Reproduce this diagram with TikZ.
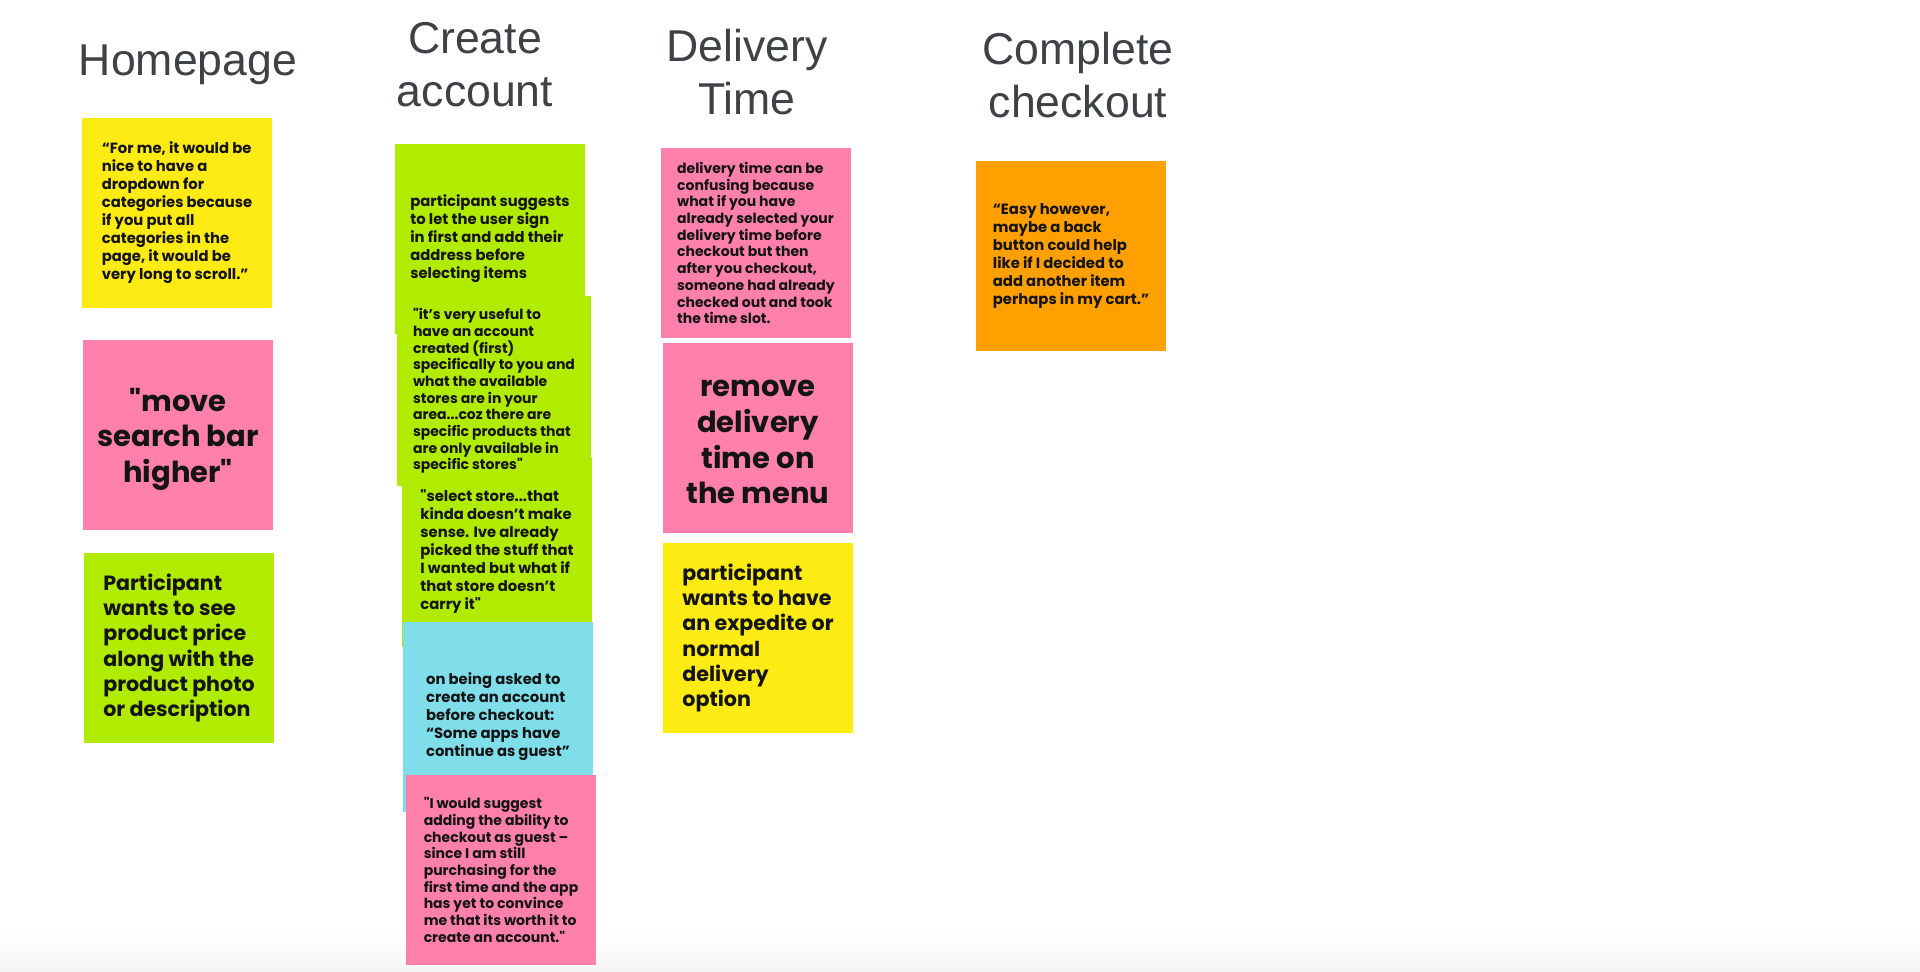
\documentclass[tikz,border=0pt]{standalone}
\usepackage{fontspec}
\setmainfont{Poppins}
\newfontfamily\headfont{Liberation Sans}

\definecolor{headgray}{RGB}{62,65,69}
\definecolor{stickyyellow}{RGB}{255,235,20}
\definecolor{stickypink}{RGB}{255,128,170}
\definecolor{stickygreen}{RGB}{177,235,0}
\definecolor{stickycyan}{RGB}{128,222,234}
\definecolor{stickyorange}{RGB}{255,160,0}

\tikzset{
  heading/.style={anchor=north, inner sep=0pt, align=center, text=headgray,
    font=\headfont\fontsize{22.3}{26.5}\selectfont},
  sticky/.style={minimum width=95pt, minimum height=95pt, inner sep=0pt,
    align=left, text=black!92, font=\bfseries\fontsize{7.4}{9}\selectfont},
  tightnote/.style={font=\bfseries\fontsize{7}{8.35}\selectfont},
  midnote/.style={font=\bfseries\fontsize{10.3}{12.6}\selectfont},
  bignote/.style={align=center, font=\bfseries\fontsize{14.5}{17.8}\selectfont},
}

\begin{document}
\begin{tikzpicture}[x=0.5pt, y=-0.5pt]

\useasboundingbox (0,0) rectangle (1920,971);
\fill[white] (0,0) rectangle (1920,971);
\shade[top color=white, bottom color=black!4] (0,930) rectangle (1920,971);

\node[heading] (homeTitle) at (188,44) {Homepage};
\node[heading] (accountTitle) at (475,22) {Create\\account};
\node[heading] (deliveryTitle) at (747,29) {Delivery\\Time};
\node[heading] (checkoutTitle) at (1078,32) {Complete\\checkout};

\node[sticky, fill=stickyyellow] (homeDropdown) at (177,213)
  {“For me, it would be\\nice to have a\\dropdown for\\categories because\\if you put all\\categories in the\\page, it would be\\very long to scroll.”};
\node[sticky, bignote, fill=stickypink] (homeSearch) at (178,435)
  {\rule{0pt}{15.6pt}\textquotedbl move\\search bar\\higher\textquotedbl};
\node[sticky, midnote, fill=stickygreen] (homePrice) at (179,648)
  {Participant\\wants to see\\product price\\along with the\\product photo\\or description};

\node[sticky, fill=stickygreen] (accountSignIn) at (490,239)
  {participant suggests\\to let the user sign\\in first and add their\\address before\\selecting items};
\node[sticky, fill=stickygreen] (accountStore) at (497,552)
  {\textquotedbl select store...that\\kinda doesn't make\\sense. Ive already\\picked the stuff that\\I wanted but what if\\that store doesn't\\carry it\textquotedbl};
\node[sticky, tightnote, fill=stickygreen, minimum width=97pt] (accountUseful) at (494,391)
  {\textquotedbl it's very useful to\\have an account\\created (first)\\specifically to you and\\what the available\\stores are in your\\area...coz there are\\specific products that\\are only available in\\specific stores\textquotedbl};
\node[sticky, fill=stickycyan] (accountAsked) at (498,717)
  {on being asked to\\create an account\\before checkout:\\“Some apps have\\continue as guest”};
\node[sticky, tightnote, fill=stickypink] (accountGuest) at (501,870)
  {\textquotedbl I would suggest\\adding the ability to\\checkout as guest –\\since I am still\\purchasing for the\\first time and the app\\has yet to convince\\me that its worth it to\\create an account.\textquotedbl};

\node[sticky, tightnote, fill=stickypink] (deliveryConfusing) at (756,243)
  {delivery time can be\\confusing because\\what if you have\\already selected your\\delivery time before\\checkout but then\\after you checkout,\\someone had already\\checked out and took\\the time slot.};
\node[sticky, bignote, fill=stickypink] (deliveryRemove) at (758,437.5)
  {\rule{0pt}{13pt}remove\\delivery\\time on\\the menu};
\node[sticky, midnote, fill=stickyyellow] (deliveryOption) at (758,638)
  {participant\\wants to have\\an expedite or\\normal\\delivery\\option};

\node[sticky, fill=stickyorange] (checkoutBack) at (1071,256)
  {“Easy however,\\maybe a back\\button could help\\like if I decided to\\add another item\\perhaps in my cart.”};

\end{tikzpicture}
\end{document}
